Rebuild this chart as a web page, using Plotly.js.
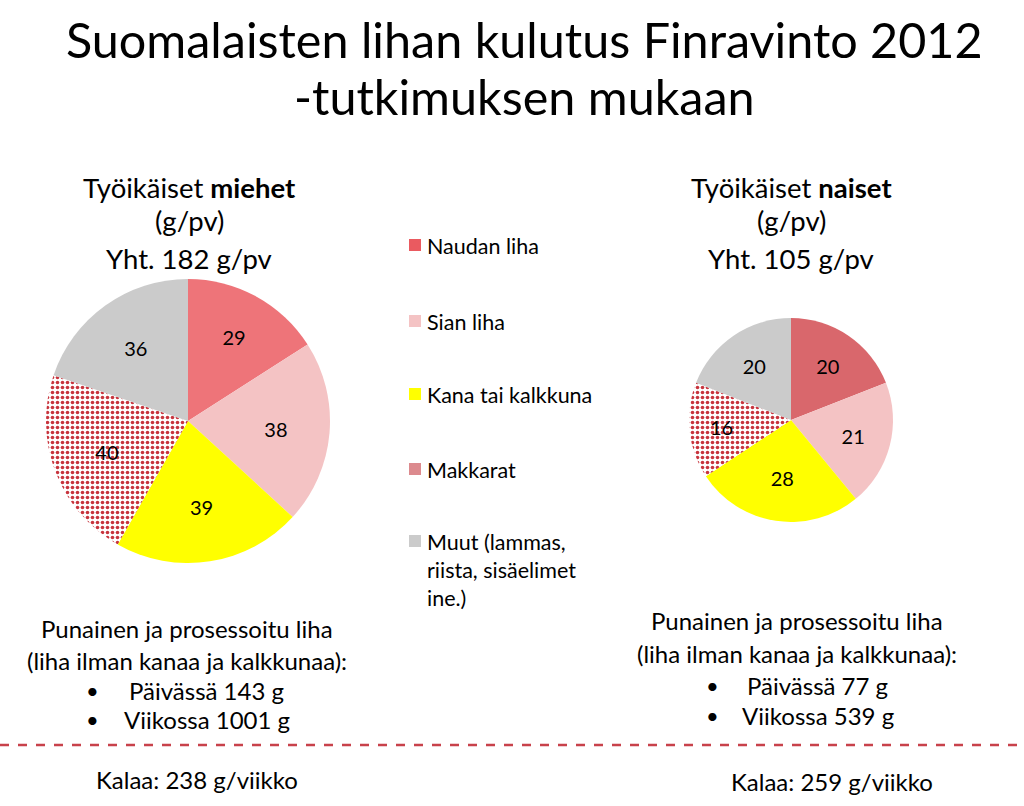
<!DOCTYPE html>
<html><head><meta charset="utf-8">
<script src="https://cdn.plot.ly/plotly-3.0.1.min.js"></script>
<style>body{margin:0;background:#fff}#c{width:1024px;height:806px}</style>
</head><body><div id="c"></div>
<script>
const categories = ["Naudan liha", "Sian liha", "Kana tai kalkkuna", "Makkarat", "Muut (lammas,<br>riista, sisäelimet<br>ine.)"];
const menValues = [29, 38, 39, 40, 36];
const womenValues = [20, 21, 28, 16, 20];
const menColors = ["#ee7479", "#f4c3c4", "#ffff00", "#ffffff", "#cbcbcb"];
const womenColors = ["#d9676c", "#f4c3c4", "#ffff00", "#ffffff", "#cbcbcb"];
const legendColors = ["#ea5a60", "#f4c3c4", "#ffff00", "#dc8a8e", "#cbcbcb"];
const patterns = ["", "", "", ".", ""];

const FONT = "Lato, 'Open Sans', sans-serif";

function pie(values, colors, dx, dy) {
  return {
    type: "pie", values: values, labels: categories, sort: false,
    direction: "clockwise", rotation: 0, hole: 0,
    marker: {colors: colors, line: {width: 0},
      pattern: {shape: patterns, fgcolor: "#c8343d", bgcolor: "#ffffff", size: 5, solidity: 0.4}},
    textinfo: "value", textposition: "inside", insidetextorientation: "horizontal",
    textfont: {family: FONT, size: 20, color: "#000"},
    domain: {x: dx, y: dy}, showlegend: false, hoverinfo: "label+value"
  };
}

const W = 1024, H = 806;
const px = x => x / W, py = y => 1 - y / H;

const data = [
  pie(menValues, menColors, [px(46), px(330)], [py(563), py(279)]),
  pie(womenValues, womenColors, [px(689), px(893)], [py(522), py(318)])
];

const ann = [];
function t(text, x, y, size, xa) {
  ann.push({text: text, x: px(x), y: py(y), xref: "paper", yref: "paper",
    showarrow: false, xanchor: xa || "center", yanchor: "middle",
    font: {family: FONT, size: size, color: "#000"}});
}
t("Suomalaisten lihan kulutus Finravinto 2012", 524, 39, 48.5);
t("-tutkimuksen mukaan", 524, 96, 48.5);

t("Työikäiset <b>miehet</b>", 189, 188, 27.5);
t("(g/pv)", 189, 221, 27.5);
t("Yht. 182 g/pv", 189, 258, 27.5);
t("Työikäiset <b>naiset</b>", 791, 188, 27.5);
t("(g/pv)", 791, 221, 27.5);
t("Yht. 105 g/pv", 791, 258, 27.5);

t("Punainen ja prosessoitu liha", 187, 628, 24);
t("(liha ilman kanaa ja kalkkunaa):", 187, 660, 24);
t("•", 92, 690, 22); t("Päivässä 143 g", 127, 690, 24, "left");
t("•", 92, 719, 22); t("Viikossa 1001 g", 122, 719, 24, "left");

t("Punainen ja prosessoitu liha", 797, 620, 24);
t("(liha ilman kanaa ja kalkkunaa):", 797, 653, 24);
t("•", 712, 685, 22); t("Päivässä 77 g", 745, 685, 24, "left");
t("•", 712, 715, 22); t("Viikossa 539 g", 740, 715, 24, "left");

t("Kalaa: 238 g/viikko", 197, 779, 24);
t("Kalaa: 259 g/viikko", 832, 781, 24);

const shapes = [{type: "line", xref: "paper", yref: "paper", x0: 0, x1: 1, y0: py(745), y1: py(745),
  line: {color: "#c8424b", width: 2.5, dash: "dash"}}];

const legY = [245, 321, 394, 469, 541];
categories.forEach((c, i) => {
  shapes.push({type: "rect", xref: "paper", yref: "paper",
    x0: px(409), x1: px(421), y0: py(legY[i] + 6), y1: py(legY[i] - 6),
    fillcolor: legendColors[i], line: {width: 0}});
  ann.push({text: c, x: px(425), y: py(legY[i] - 14), xref: "paper", yref: "paper",
    showarrow: false, xanchor: "left", yanchor: "top", align: "left",
    font: {family: FONT, size: 21.5, color: "#000"}});
});

Plotly.newPlot("c", data, {
  width: W, height: H, margin: {l: 0, r: 0, t: 0, b: 0},
  paper_bgcolor: "#fff", plot_bgcolor: "#fff",
  annotations: ann, shapes: shapes, showlegend: false
}, {displayModeBar: false, staticPlot: true});
</script></body></html>
